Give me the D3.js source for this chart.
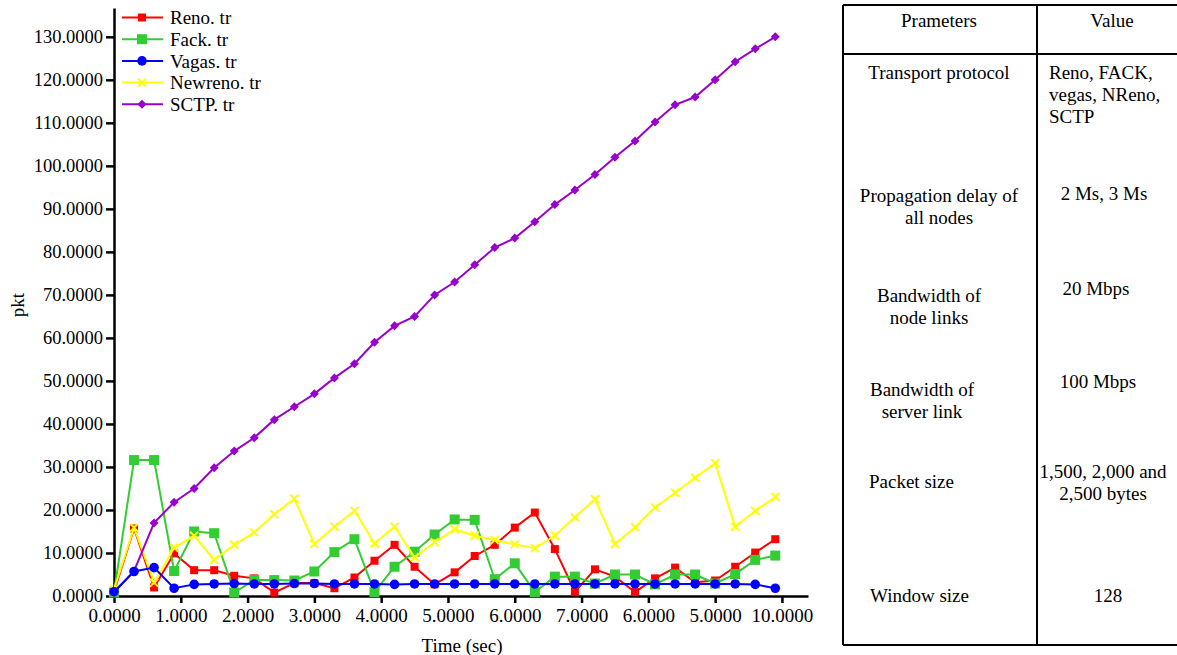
<!DOCTYPE html>
<html>
<head>
<meta charset="utf-8">
<script src="https://cdn.jsdelivr.net/npm/d3@7"></script>
<style>
  html, body { margin: 0; padding: 0; background: #fff; }
  svg { display: block; font-family: "Liberation Serif", "Times New Roman", serif; }
</style>
</head>
<body>
<svg id="chart" width="1177" height="655"></svg>
<script>
// Sample times (sec)
const times = [0.0, 0.3, 0.6, 0.9, 1.2, 1.5, 1.8, 2.1, 2.4, 2.7, 3.0, 3.3, 3.6, 3.9, 4.2, 4.5, 4.8,
               5.1, 5.4, 5.7, 6.0, 6.3, 6.6, 6.9, 7.2, 7.5, 7.8, 8.1, 8.4, 8.7, 9.0, 9.3, 9.6, 9.9];

// Packets per trace
const reno    = [1.0, 15.7, 2.0, 9.9, 6.0, 6.0, 4.7, 4.1, 0.8, 3.0, 3.0, 1.8, 4.3, 8.2, 11.9, 6.8, 2.7,
                 5.5, 9.3, 11.9, 15.9, 19.4, 10.9, 1.0, 6.2, 4.5, 0.9, 4.1, 6.6, 3.2, 3.6, 6.8, 10.1, 13.2];
const fack    = [0.8, 31.6, 31.6, 5.8, 15.0, 14.6, 0.8, 3.7, 3.7, 3.6, 5.7, 10.2, 13.2, 0.9, 6.8, 10.3, 14.3,
                 17.8, 17.7, 3.9, 7.6, 0.9, 4.5, 4.5, 2.9, 5.0, 5.0, 2.7, 5.0, 5.0, 2.9, 5.1, 8.4, 9.4];
const vagas   = [1.0, 5.7, 6.6, 1.8, 2.7, 2.8, 2.9, 2.8, 2.8, 2.9, 2.9, 2.8, 2.8, 2.8, 2.7, 2.8, 2.8,
                 2.8, 2.8, 2.8, 2.8, 2.8, 2.8, 2.8, 2.8, 2.8, 2.8, 2.8, 2.8, 2.8, 2.8, 2.8, 2.7, 1.8];
const newreno = [1.5, 15.9, 3.1, 11.2, 14.0, 8.4, 11.9, 14.8, 19.0, 22.6, 12.1, 16.1, 19.8, 12.2, 16.1, 9.0, 12.5,
                 15.5, 14.0, 13.0, 12.0, 11.1, 14.0, 18.3, 22.5, 12.1, 16.0, 20.6, 24.0, 27.5, 30.9, 16.1, 19.8, 23.0];
const sctp    = [0.8, 5.8, 17.0, 21.8, 25.0, 29.8, 33.7, 36.8, 41.0, 44.0, 47.0, 50.7, 54.0, 59.0, 62.8, 65.0, 70.0,
                 73.0, 77.0, 81.0, 83.2, 87.0, 91.0, 94.4, 98.0, 102.0, 105.8, 110.2, 114.2, 116.0, 120.0, 124.2, 127.2, 130.0];

const seriesNames = ["Reno. tr", "Fack. tr", "Vagas. tr", "Newreno. tr", "SCTP. tr"];
const seriesValues = [reno, fack, vagas, newreno, sctp];
const seriesColors = ["#ff0000", "#33cc33", "#0000ff", "#ffff00", "#9900cc"];
const seriesMarkers = ["smallSquare", "square", "circle", "cross", "diamond"];

// Axis ticks
const xTickValues = [0, 1, 2, 3, 4, 5, 6, 7, 8, 9, 10];
const xTickLabels = ["0.0000", "1.0000", "2.0000", "3.0000", "4.0000", "5.0000",
                     "6.0000", "7.0000", "6.0000", "5.0000", "10.0000"];
const yTickValues = [0, 10, 20, 30, 40, 50, 60, 70, 80, 90, 100, 110, 120, 130];
const yTickLabels = ["0.0000", "10.0000", "20.0000", "30.0000", "40.0000", "50.0000", "60.0000",
                     "70.0000", "80.0000", "90.0000", "100.0000", "110.0000", "120.0000", "130.0000"];

// Parameter table
const tableHeader = ["Prameters", "Value"];
const tableParams = [
  ["Transport protocol"],
  ["Propagation delay of", "all nodes"],
  ["Bandwidth of", "node links"],
  ["Bandwidth of", "server link"],
  ["Packet size"],
  ["Window size"]
];
const tableValues = [
  ["Reno, FACK,", "vegas, NReno,", "SCTP"],
  ["2 Ms, 3 Ms"],
  ["20 Mbps"],
  ["100 Mbps"],
  ["1,500, 2,000 and", "2,500 bytes"],
  ["128"]
];

// ---------- layout ----------
const svg = d3.select("#chart");
const FONT = 19;

const x = d3.scaleLinear().domain([0, 10.39]).range([114, 808]);
const y = d3.scaleLinear().domain([0, 136.7]).range([596, 8]);

// axes
const xAxis = d3.axisBottom(x)
  .tickValues(xTickValues)
  .tickFormat((d, i) => xTickLabels[i])
  .tickSize(7).tickSizeOuter(0).tickPadding(6);
const gx = svg.append("g").attr("transform", `translate(0,${y(0)})`).call(xAxis);
gx.select(".domain").attr("stroke", "#000").attr("stroke-width", 2.5);
gx.selectAll(".tick line").attr("stroke", "#000").attr("stroke-width", 2.5);
gx.selectAll(".tick text").attr("font-size", FONT).attr("font-family", "Liberation Serif").attr("fill", "#000");

const yAxis = d3.axisLeft(y)
  .tickValues(yTickValues)
  .tickFormat((d, i) => yTickLabels[i])
  .tickSize(8).tickSizeOuter(0).tickPadding(3);
const gy = svg.append("g").attr("transform", `translate(${x(0)},0)`).call(yAxis);
gy.select(".domain").attr("stroke", "#000").attr("stroke-width", 2.5);
gy.selectAll(".tick line").attr("stroke", "#000").attr("stroke-width", 2.5);
gy.selectAll(".tick text").attr("font-size", 18.5).attr("font-family", "Liberation Serif").attr("fill", "#000");

// axis titles
svg.append("text")
  .attr("x", 462).attr("y", 652)
  .attr("text-anchor", "middle").attr("font-size", FONT)
  .text("Time (sec)");
svg.append("text")
  .attr("transform", "translate(24,305) rotate(-90)")
  .attr("text-anchor", "middle").attr("font-size", FONT)
  .text("pkt");

// marker drawing
function drawMarker(g, type, color) {
  switch (type) {
    case "smallSquare":
      g.append("rect").attr("x", -4).attr("y", -4).attr("width", 8).attr("height", 8).attr("fill", color);
      break;
    case "square":
      g.append("rect").attr("x", -5).attr("y", -5).attr("width", 10).attr("height", 10).attr("fill", color);
      break;
    case "circle":
      g.append("circle").attr("r", 4.8).attr("fill", color);
      break;
    case "cross":
      g.append("path").attr("d", "M-4,-4L4,4M-4,4L4,-4").attr("stroke", color).attr("stroke-width", 2).attr("fill", "none");
      break;
    case "diamond":
      g.append("path").attr("d", "M0,-4.5L4.5,0L0,4.5L-4.5,0Z").attr("fill", color);
      break;
  }
}

const line = d3.line().x(d => x(d[0])).y(d => y(d[1]));

// draw series (blue last so its flat trace sits on top)
const drawOrder = [0, 1, 3, 4, 2];
drawOrder.forEach(i => {
  const pts = times.map((t, k) => [t, seriesValues[i][k]]);
  const g = svg.append("g");
  g.append("path").datum(pts)
    .attr("d", line).attr("fill", "none")
    .attr("stroke", seriesColors[i]).attr("stroke-width", 2);
  g.selectAll("g.m").data(pts).enter().append("g")
    .attr("transform", d => `translate(${x(d[0])},${y(d[1])})`)
    .each(function () { drawMarker(d3.select(this), seriesMarkers[i], seriesColors[i]); });
});

// legend
const legend = svg.append("g");
seriesNames.forEach((name, i) => {
  const ly = 17.5 + i * 21.7;
  legend.append("line").attr("x1", 122).attr("x2", 163).attr("y1", ly).attr("y2", ly)
    .attr("stroke", seriesColors[i]).attr("stroke-width", 2);
  const m = legend.append("g").attr("transform", `translate(142,${ly})`);
  drawMarker(m, seriesMarkers[i], seriesColors[i]);
  legend.append("text").attr("x", 170).attr("y", ly).attr("dy", "0.35em")
    .attr("font-size", FONT).text(name);
});

// parameter table
const tbl = svg.append("g");
const tLeft = 843, tDiv = 1037, tTop = 5, tHead = 54, tBottom = 645, tRight = 1177;
tbl.append("line").attr("x1", tLeft).attr("x2", tRight).attr("y1", tTop).attr("y2", tTop).attr("stroke", "#000").attr("stroke-width", 2);
tbl.append("line").attr("x1", tLeft).attr("x2", tRight).attr("y1", tHead).attr("y2", tHead).attr("stroke", "#000").attr("stroke-width", 2);
tbl.append("line").attr("x1", tLeft).attr("x2", tRight).attr("y1", tBottom).attr("y2", tBottom).attr("stroke", "#000").attr("stroke-width", 2);
tbl.append("line").attr("x1", tLeft).attr("x2", tLeft).attr("y1", tTop).attr("y2", tBottom).attr("stroke", "#000").attr("stroke-width", 2);
tbl.append("line").attr("x1", tDiv).attr("x2", tDiv).attr("y1", tTop).attr("y2", tBottom).attr("stroke", "#000").attr("stroke-width", 2);

const lineGap = 22;
function cellText(lines, cx, cy, anchor) {
  lines.forEach((s, k) => {
    tbl.append("text").attr("x", cx).attr("y", cy + k * lineGap).attr("dy", "0.35em")
      .attr("text-anchor", anchor).attr("font-size", FONT).text(s);
  });
}
cellText([tableHeader[0]], 939, 20, "middle");
cellText([tableHeader[1]], 1112, 20, "middle");

// text placement inside each row
const paramPlace = [[939, 72, "middle"], [939, 195, "middle"], [929, 295, "middle"],
                    [922, 389, "middle"], [869, 481, "start"], [870, 595, "start"]];
const valuePlace = [[1049, 72, "start"], [1104, 193, "middle"], [1096, 288, "middle"],
                    [1098, 381, "middle"], [1103, 471, "middle"], [1108, 595, "middle"]];
tableParams.forEach((lines, i) => cellText(lines, paramPlace[i][0], paramPlace[i][1], paramPlace[i][2]));
tableValues.forEach((lines, i) => cellText(lines, valuePlace[i][0], valuePlace[i][1], valuePlace[i][2]));
</script>
</body>
</html>
